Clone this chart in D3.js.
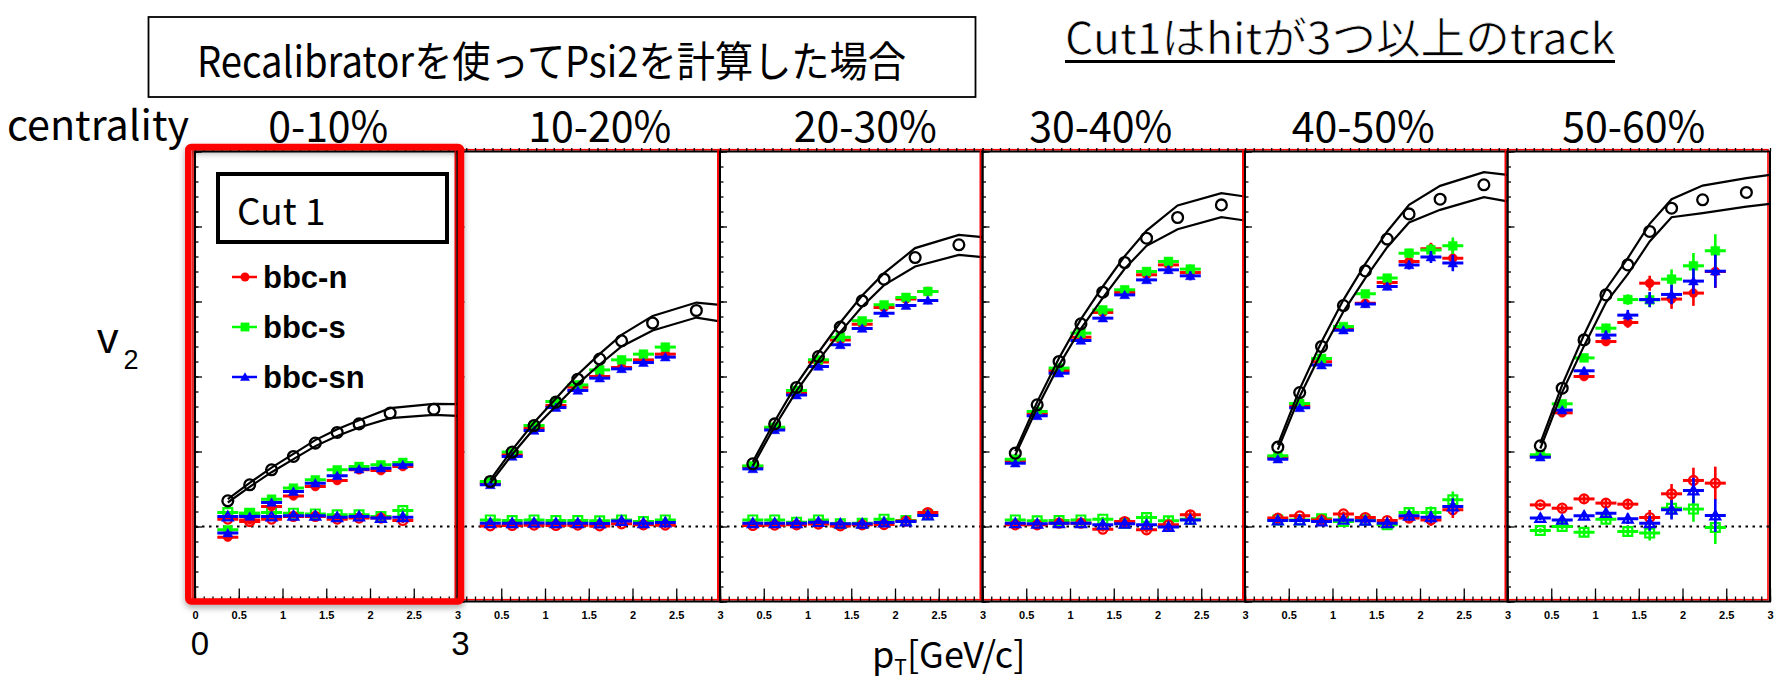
<!DOCTYPE html>
<html>
<head>
<meta charset="utf-8">
<script src="https://cdn.jsdelivr.net/npm/d3@7"></script>
<style>
  html, body { margin: 0; padding: 0; background: #ffffff; }
  svg { display: block; }
</style>
</head>
<body>
<svg id="chart" width="1776" height="682"></svg>
<script>
// ---- data -----------------------------------------------------------------
const centralities = ["0-10%", "10-20%", "20-30%", "30-40%", "40-50%", "50-60%"];
const seriesNames = ["bbc-n", "bbc-s", "bbc-sn"];
const xTickValues = [0, 0.5, 1, 1.5, 2, 2.5, 3];
const yTickValues = [-0.05, 0, 0.05, 0.1, 0.15, 0.2, 0.25];

// pT bin centres and half width of the bins
const ptBins = [0.375, 0.625, 0.875, 1.125, 1.375, 1.625, 1.875, 2.125, 2.375];
const ptHalfWidth = 0.12;

// reference v2 (open black circles) and its systematic band
const refPt = [0.375, 0.625, 0.875, 1.125, 1.375, 1.625, 1.875, 2.23, 2.73];
const bandPt = [0.375, 0.625, 0.875, 1.125, 1.375, 1.625, 1.875, 2.23, 2.73, 3.0];
const refV2 = [
  [0.0171, 0.0278, 0.0378, 0.0467, 0.0556, 0.0627, 0.0684, 0.0756, 0.0782],
  [0.0300, 0.0496, 0.0673, 0.0829, 0.0982, 0.1116, 0.1238, 0.1356, 0.1440],
  [0.0418, 0.0684, 0.0927, 0.1133, 0.1329, 0.1504, 0.1649, 0.1793, 0.1878],
  [0.0489, 0.0811, 0.1100, 0.1351, 0.1562, 0.1760, 0.1922, 0.2060, 0.2144],
  [0.0529, 0.0893, 0.1200, 0.1473, 0.1704, 0.1916, 0.2084, 0.2182, 0.2278],
  [0.0538, 0.0922, 0.1244, 0.1544, 0.1744, 0.1967, 0.2122, 0.2178, 0.2227]
];
const refUpper = [
  [0.0182, 0.0291, 0.0393, 0.0484, 0.0576, 0.0649, 0.0709, 0.0789, 0.0818, 0.0816],
  [0.0311, 0.0511, 0.0693, 0.0853, 0.1013, 0.1151, 0.1278, 0.1404, 0.1493, 0.1478],
  [0.0431, 0.0702, 0.0949, 0.1160, 0.1360, 0.1540, 0.1689, 0.1856, 0.1944, 0.1929],
  [0.0502, 0.0831, 0.1124, 0.1382, 0.1600, 0.1802, 0.1973, 0.2140, 0.2222, 0.2200],
  [0.0544, 0.0916, 0.1231, 0.1511, 0.1751, 0.1967, 0.2144, 0.2271, 0.2362, 0.2344],
  [0.0556, 0.0944, 0.1278, 0.1582, 0.1789, 0.2018, 0.2182, 0.2273, 0.2322, 0.2344]
];
const refLower = [
  [0.0160, 0.0264, 0.0362, 0.0449, 0.0536, 0.0604, 0.0660, 0.0722, 0.0744, 0.0738],
  [0.0289, 0.0480, 0.0653, 0.0804, 0.0951, 0.1080, 0.1200, 0.1307, 0.1393, 0.1367],
  [0.0404, 0.0667, 0.0904, 0.1107, 0.1296, 0.1467, 0.1609, 0.1733, 0.1811, 0.1796],
  [0.0476, 0.0791, 0.1076, 0.1320, 0.1524, 0.1718, 0.1871, 0.1982, 0.2062, 0.2040],
  [0.0513, 0.0867, 0.1164, 0.1433, 0.1656, 0.1862, 0.2027, 0.2111, 0.2196, 0.2167],
  [0.0520, 0.0896, 0.1204, 0.1493, 0.1682, 0.1900, 0.2062, 0.2089, 0.2133, 0.2151]
];

// v2 measured with each event plane (filled markers)
const v2N = [
  [-0.0071, 0.0044, 0.0133, 0.0204, 0.0267, 0.0307, 0.0378, 0.0373, 0.0400],
  [0.0289, 0.0478, 0.0656, 0.0807, 0.0929, 0.1000, 0.1060, 0.1111, 0.1149],
  [0.0400, 0.0653, 0.0889, 0.1096, 0.1244, 0.1349, 0.1460, 0.1516, 0.1567],
  [0.0440, 0.0751, 0.1040, 0.1262, 0.1427, 0.1560, 0.1678, 0.1744, 0.1693],
  [0.0462, 0.0804, 0.1098, 0.1322, 0.1489, 0.1627, 0.1767, 0.1851, 0.1789],
  [0.0469, 0.0758, 0.1000, 0.1233, 0.1360, 0.1622, 0.1516, 0.1556, 0.1700]
];
const v2S = [
  [-0.0022, 0.0089, 0.0182, 0.0256, 0.0311, 0.0378, 0.0400, 0.0411, 0.0427],
  [0.0300, 0.0496, 0.0673, 0.0833, 0.0944, 0.1044, 0.1111, 0.1149, 0.1196],
  [0.0404, 0.0662, 0.0907, 0.1111, 0.1262, 0.1371, 0.1478, 0.1527, 0.1567],
  [0.0449, 0.0767, 0.1056, 0.1289, 0.1444, 0.1578, 0.1700, 0.1767, 0.1716],
  [0.0471, 0.0820, 0.1120, 0.1333, 0.1551, 0.1656, 0.1822, 0.1844, 0.1871],
  [0.0478, 0.0818, 0.1124, 0.1322, 0.1513, 0.1511, 0.1649, 0.1738, 0.1838]
];
const v2SN = [
  [-0.0044, 0.0067, 0.0160, 0.0233, 0.0289, 0.0338, 0.0382, 0.0389, 0.0411],
  [0.0278, 0.0467, 0.0640, 0.0793, 0.0907, 0.0989, 0.1051, 0.1093, 0.1129],
  [0.0384, 0.0644, 0.0876, 0.1067, 0.1211, 0.1320, 0.1422, 0.1473, 0.1507],
  [0.0422, 0.0738, 0.1022, 0.1240, 0.1389, 0.1544, 0.1644, 0.1711, 0.1671],
  [0.0449, 0.0791, 0.1076, 0.1309, 0.1484, 0.1600, 0.1744, 0.1796, 0.1756],
  [0.0462, 0.0776, 0.1038, 0.1276, 0.1409, 0.1513, 0.1547, 0.1636, 0.1702]
];

// open markers close to zero
const v2NOpen = [
  [0.0049, 0.0033, 0.0049, 0.0067, 0.0067, 0.0049, 0.0056, 0.0056, 0.0040],
  [0.0004, 0.0007, 0.0009, 0.0007, 0.0009, 0.0004, 0.0018, 0.0011, 0.0009],
  [0.0007, 0.0009, 0.0011, 0.0016, 0.0004, 0.0011, 0.0013, 0.0036, 0.0093],
  [0.0011, 0.0011, 0.0022, 0.0022, -0.0018, 0.0033, -0.0022, 0.0011, 0.0078],
  [0.0056, 0.0071, 0.0044, 0.0084, 0.0060, 0.0040, 0.0056, 0.0044, 0.0111],
  [0.0144, 0.0122, 0.0184, 0.0156, 0.0149, 0.0060, 0.0218, 0.0307, 0.0289]
];
const v2SOpen = [
  [0.0093, 0.0089, 0.0093, 0.0089, 0.0084, 0.0078, 0.0078, 0.0067, 0.0107],
  [0.0044, 0.0040, 0.0044, 0.0040, 0.0040, 0.0038, 0.0044, 0.0033, 0.0044],
  [0.0044, 0.0044, 0.0029, 0.0044, 0.0018, 0.0022, 0.0049, 0.0040, 0.0078],
  [0.0044, 0.0038, 0.0040, 0.0044, 0.0049, 0.0022, 0.0060, 0.0038, 0.0049],
  [0.0044, 0.0044, 0.0051, 0.0033, 0.0044, 0.0011, 0.0093, 0.0093, 0.0178],
  [-0.0027, 0.0000, -0.0038, 0.0049, -0.0033, -0.0044, 0.0122, 0.0116, -0.0007]
];
const v2SNOpen = [
  [0.0067, 0.0071, 0.0067, 0.0071, 0.0071, 0.0062, 0.0067, 0.0056, 0.0062],
  [0.0022, 0.0022, 0.0024, 0.0022, 0.0022, 0.0020, 0.0036, 0.0022, 0.0027],
  [0.0022, 0.0022, 0.0022, 0.0029, 0.0018, 0.0018, 0.0027, 0.0033, 0.0073],
  [0.0022, 0.0018, 0.0022, 0.0022, 0.0011, 0.0018, 0.0011, -0.0004, 0.0044],
  [0.0040, 0.0040, 0.0033, 0.0044, 0.0038, 0.0022, 0.0071, 0.0062, 0.0133],
  [0.0056, 0.0044, 0.0071, 0.0089, 0.0051, 0.0022, 0.0111, 0.0240, 0.0073]
];

// statistical errors per centrality bin
const v2Err = [
  [0.0010, 0.0010, 0.0010, 0.0010, 0.0012, 0.0012, 0.0014, 0.0016, 0.0018],
  [0.0010, 0.0010, 0.0010, 0.0012, 0.0012, 0.0014, 0.0016, 0.0018, 0.0020],
  [0.0010, 0.0010, 0.0012, 0.0012, 0.0014, 0.0016, 0.0018, 0.0020, 0.0025],
  [0.0010, 0.0012, 0.0012, 0.0014, 0.0016, 0.0018, 0.0020, 0.0025, 0.0030],
  [0.0012, 0.0012, 0.0014, 0.0016, 0.0020, 0.0025, 0.0030, 0.0040, 0.0055],
  [0.0015, 0.0020, 0.0025, 0.0030, 0.0035, 0.0050, 0.0065, 0.0085, 0.0110]
];

// ---- layout ---------------------------------------------------------------
const svg = d3.select("#chart");
const JP = "'Noto Sans CJK JP', 'Noto Sans', sans-serif";
const ROOTFONT = "'Liberation Sans', Arial, sans-serif";

const panelX0 = 195, panelW = 262.5;
const yTop = 151.5, yBot = 601.5;
const y = d3.scaleLinear().domain([-0.05, 0.25]).range([yBot, yTop]);
const xScales = centralities.map((c, i) =>
  d3.scaleLinear().domain([0, 3]).range([panelX0 + i * panelW, panelX0 + (i + 1) * panelW]));

const RED = "#ff0000", GREEN = "#00ff00", BLUE = "#0000ff";
const sym = {
  circle: d3.symbol().type(d3.symbolCircle).size(64),
  square: d3.symbol().type(d3.symbolSquare).size(78),
  triangle: d3.symbol().type(d3.symbolTriangle).size(42),
  ref: d3.symbol().type(d3.symbolCircle).size(92)
};

const defs = svg.append("defs");
const shadow = defs.append("filter").attr("id", "boxShadow")
  .attr("x", "-10%").attr("y", "-10%").attr("width", "120%").attr("height", "120%");
shadow.append("feDropShadow").attr("dx", 0).attr("dy", 3).attr("stdDeviation", 3)
  .attr("flood-color", "#000").attr("flood-opacity", 0.35);
defs.append("clipPath").attr("id", "yLabelClip")
  .append("rect").attr("x", 186).attr("y", 130).attr("width", 20).attr("height", 490);

function fitText(sel, width) {
  sel.attr("textLength", width).attr("lengthAdjust", "spacingAndGlyphs");
  return sel;
}

// ---- headings ---------------------------------------------------------------
svg.append("rect").attr("x", 148.5).attr("y", 17).attr("width", 827).attr("height", 80)
  .attr("fill", "#fff").attr("stroke", "#000").attr("stroke-width", 1.8);
fitText(svg.append("text").attr("x", 197).attr("y", 77)
  .attr("font-family", JP).attr("font-weight", 400).attr("font-size", 42).attr("fill", "#000")
  .text("Recalibratorを使ってPsi2を計算した場合"), 709);

fitText(svg.append("text").attr("x", 1065).attr("y", 54)
  .attr("font-family", JP).attr("font-weight", 400).attr("font-size", 43).attr("fill", "#000")
  .attr("stroke", "#fff").attr("stroke-width", 0.7)
  .text("Cut1はhitが3つ以上のtrack"), 550);
svg.append("line").attr("x1", 1065).attr("x2", 1615).attr("y1", 61.5).attr("y2", 61.5)
  .attr("stroke", "#000").attr("stroke-width", 3.2);

fitText(svg.append("text").attr("x", 7).attr("y", 140)
  .attr("font-family", JP).attr("font-weight", 400).attr("font-size", 41).attr("fill", "#000")
  .text("centrality"), 182);

const headerShift = [2, 11, 14, -13, -13, -5];
centralities.forEach((c, i) => {
  const cx = (xScales[i].range()[0] + xScales[i].range()[1]) / 2 + headerShift[i];
  const w = c.length === 5 ? 120 : 143;
  fitText(svg.append("text").attr("x", cx - w / 2).attr("y", 142)
    .attr("font-family", JP).attr("font-weight", 400).attr("font-size", 42).attr("fill", "#000")
    .text(c), w);
});

// ---- panels -----------------------------------------------------------------
const plot = svg.append("g");

centralities.forEach((c, i) => {
  const x = xScales[i];
  const g = plot.append("g").attr("class", "panel");
  const [xa, xb] = x.range();

  // offset red frame drawn below the black one
  g.append("rect").attr("x", xa - 2).attr("y", yTop - 1.8).attr("width", xb - xa).attr("height", yBot - yTop)
    .attr("fill", "none").attr("stroke", RED).attr("stroke-width", 1.6);
  g.append("rect").attr("x", xa).attr("y", yTop).attr("width", xb - xa).attr("height", yBot - yTop)
    .attr("fill", "none").attr("stroke", "#000").attr("stroke-width", 2);

  // axis ticks
  const minorX = d3.range(0, 31).map(d => d / 10);
  const minorY = d3.range(-5, 26).map(d => d / 100);
  g.append("g").attr("transform", `translate(0,${yBot})`)
    .call(d3.axisBottom(x).tickValues(minorX).tickSize(-5).tickFormat(""))
    .call(a => a.select(".domain").remove());
  g.append("g").attr("transform", `translate(0,${yBot})`)
    .call(d3.axisBottom(x).tickValues(xTickValues).tickSize(-13).tickFormat(""))
    .call(a => a.select(".domain").remove());
  g.append("g").attr("transform", `translate(0,${yTop})`)
    .call(d3.axisTop(x).tickValues(minorX).tickSize(3.5).tickFormat(""))
    .call(a => a.select(".domain").remove());
  g.append("g").attr("transform", `translate(${xa},0)`)
    .call(d3.axisRight(y).tickValues(minorY).tickSize(3.5).tickFormat(""))
    .call(a => a.select(".domain").remove());
  g.append("g").attr("transform", `translate(${xa},0)`)
    .call(d3.axisRight(y).tickValues(yTickValues).tickSize(7).tickFormat(""))
    .call(a => a.select(".domain").remove());
  g.selectAll(".tick line").attr("stroke", "#000").attr("stroke-width", 1.3);

  // x tick labels
  const labelVals = i === 0 ? xTickValues : xTickValues.slice(1);
  g.append("g").attr("transform", `translate(0,${yBot})`)
    .call(d3.axisBottom(x).tickValues(labelVals).tickSize(0).tickPadding(10)
      .tickFormat(d3.format("")))
    .call(a => a.select(".domain").remove())
    .call(a => a.selectAll("text").attr("font-family", ROOTFONT).attr("font-weight", "bold")
      .attr("font-size", 11).attr("fill", "#000"));

  // zero line
  g.append("line").attr("x1", xa).attr("x2", xb).attr("y1", y(0)).attr("y2", y(0))
    .attr("stroke", "#000").attr("stroke-width", 2).attr("stroke-dasharray", "2.5,4.5");

  const clipId = "clip" + i;
  defs.append("clipPath").attr("id", clipId).append("rect")
    .attr("x", xa).attr("y", yTop).attr("width", xb - xa).attr("height", yBot - yTop);
  const d = g.append("g").attr("clip-path", `url(#${clipId})`);

  function drawSeries(values, color, shape, open) {
    const pts = ptBins.map((pt, k) => ({ pt, v: values[i][k], e: v2Err[i][k] }));
    const s = d.append("g");
    s.selectAll("line.h").data(pts).join("line").attr("class", "h")
      .attr("x1", p => x(p.pt - ptHalfWidth)).attr("x2", p => x(p.pt + ptHalfWidth))
      .attr("y1", p => y(p.v)).attr("y2", p => y(p.v))
      .attr("stroke", color).attr("stroke-width", 3);
    s.selectAll("line.v").data(pts).join("line").attr("class", "v")
      .attr("x1", p => x(p.pt)).attr("x2", p => x(p.pt))
      .attr("y1", p => y(p.v - p.e)).attr("y2", p => y(p.v + p.e))
      .attr("stroke", color).attr("stroke-width", 2.6);
    s.selectAll("path").data(pts).join("path")
      .attr("transform", p => `translate(${x(p.pt)},${y(p.v) + (shape === "triangle" ? 1 : 0)})`)
      .attr("d", sym[shape]())
      .attr("fill", open ? "#fff" : color)
      .attr("fill-opacity", open ? 0 : 1)
      .attr("stroke", color).attr("stroke-width", open ? 2.2 : 0.5);
  }

  drawSeries(v2SOpen, GREEN, "square", true);
  drawSeries(v2NOpen, RED, "circle", true);
  drawSeries(v2SNOpen, BLUE, "triangle", true);
  drawSeries(v2N, RED, "circle", false);
  drawSeries(v2S, GREEN, "square", false);
  drawSeries(v2SN, BLUE, "triangle", false);

  // systematic band of the reference
  const line = d3.line().x(p => x(p[0])).y(p => y(p[1]));
  [refUpper, refLower].forEach(arr => {
    d.append("path").datum(bandPt.map((pt, k) => [pt, arr[i][k]]))
      .attr("d", line).attr("fill", "none").attr("stroke", "#000").attr("stroke-width", 2.2);
  });
  d.append("g").selectAll("path").data(refPt.map((pt, k) => ({ pt, v: refV2[i][k] })))
    .join("path")
    .attr("transform", p => `translate(${x(p.pt)},${y(p.v)})`)
    .attr("d", sym.ref()).attr("fill", "none").attr("stroke", "#000").attr("stroke-width", 2.3);
});

// y tick labels of the first panel (mostly hidden under the highlight box)
svg.append("g").attr("clip-path", "url(#yLabelClip)")
  .attr("transform", `translate(${panelX0},0)`)
  .call(d3.axisLeft(y).tickValues(yTickValues).tickSize(0).tickPadding(1).tickFormat(d3.format("")))
  .call(a => a.select(".domain").remove())
  .call(a => a.selectAll("text").attr("font-family", ROOTFONT).attr("font-weight", "bold")
    .attr("font-size", 9).attr("fill", "#000"))
  .call(a => a.selectAll(".tick").filter(v => v === 0.25).select("text").attr("dy", "1.1em"));

// ---- legend in the first panel ---------------------------------------------
const lg = svg.append("g");
lg.append("rect").attr("x", 218).attr("y", 174).attr("width", 229).attr("height", 68)
  .attr("fill", "#fff").attr("stroke", "#000").attr("stroke-width", 4);
lg.append("text").attr("x", 237).attr("y", 225).attr("font-family", JP).attr("font-weight", 400)
  .attr("font-size", 37).attr("fill", "#000").text("Cut 1");
const legendColors = [RED, GREEN, BLUE];
const legendShapes = ["circle", "square", "triangle"];
const legendY = d3.scalePoint().domain(seriesNames).range([277, 377]);
seriesNames.forEach((name, k) => {
  const ly = legendY(name);
  lg.append("line").attr("x1", 232).attr("x2", 257).attr("y1", ly).attr("y2", ly)
    .attr("stroke", legendColors[k]).attr("stroke-width", 2.5);
  lg.append("path").attr("transform", `translate(245,${ly + (k === 2 ? 1 : 0)})`)
    .attr("d", sym[legendShapes[k]]()).attr("fill", legendColors[k]);
  lg.append("text").attr("x", 263).attr("y", ly + 10.5)
    .attr("font-family", ROOTFONT).attr("font-weight", "bold").attr("font-size", 31)
    .attr("fill", "#000").text(name);
});

// highlight box round the first panel
svg.append("rect").attr("x", 188.3).attr("y", 147).attr("width", 272.7).attr("height", 454.5)
  .attr("rx", 3).attr("fill", "none").attr("stroke", RED).attr("stroke-width", 6.5)
  .attr("filter", "url(#boxShadow)");

// ---- axis titles ---------------------------------------------------------------
const yTitle = svg.append("text").attr("x", 97).attr("y", 353)
  .attr("font-family", ROOTFONT).attr("font-size", 43).attr("fill", "#000");
yTitle.append("tspan").text("v");
yTitle.append("tspan").attr("font-size", 27).attr("dy", 16).attr("dx", 5).text("2");

const xTitle = svg.append("text").attr("x", 872).attr("y", 668)
  .attr("font-family", JP).attr("font-weight", 400).attr("font-size", 36).attr("fill", "#000");
xTitle.append("tspan").text("p");
xTitle.append("tspan").attr("font-size", 21).attr("dy", 7).text("T");
xTitle.append("tspan").attr("dy", -7).text("[GeV/c]");

svg.append("text").attr("x", xScales[0](0) + 5).attr("y", 655).attr("text-anchor", "middle")
  .attr("font-family", ROOTFONT).attr("font-size", 33).attr("fill", "#000").text("0");
svg.append("text").attr("x", xScales[0](3) + 3).attr("y", 655).attr("text-anchor", "middle")
  .attr("font-family", ROOTFONT).attr("font-size", 33).attr("fill", "#000").text("3");
</script>
</body>
</html>
